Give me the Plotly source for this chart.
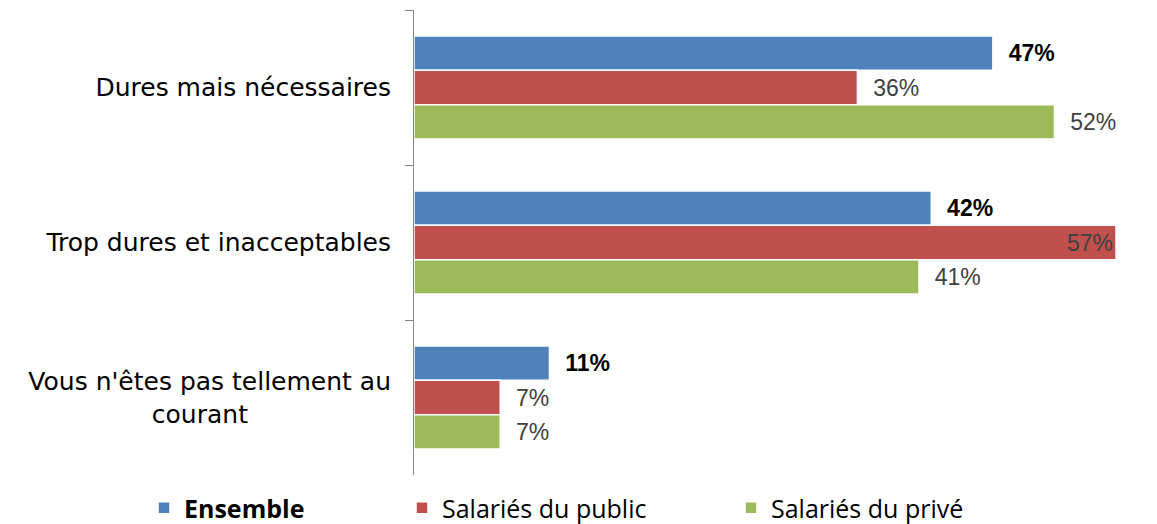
import plotly.graph_objects as go

categories = ["Dures mais nécessaires", "Trop dures et inacceptables",
              "Vous n'êtes pas tellement au<br>courant" + "\u00a0" * 18]
series_names = ["<b>Ensemble</b>", "Salariés du public", "Salariés du privé"]
ensemble = [47, 42, 11]
public = [36, 57, 7]
prive = [52, 41, 7]

colors = ["#4F81BD", "#C0504D", "#9BBB59"]
values = [ensemble, public, prive]
pad = "\u00a0\u00a0"
label_fmt = [
    [pad + "<b>%{x}%</b>"] * 3,
    [pad + "%{x}%", "%{x}%", pad + "%{x}%"],
    [pad + "%{x}%"] * 3,
]
label_pos = [
    ["outside"] * 3,
    ["outside", "inside", "outside"],
    ["outside"] * 3,
]
label_color = ["#000000", "#404040", "#404040"]
legend_ids = ["legend", "legend2", "legend3"]

W, H = 1149, 516
legend_x = [136, 394, 723]
legend_y = 500

fig = go.Figure()
for i in range(3):
    fig.add_trace(go.Bar(
        y=categories, x=values[i], orientation="h", name=series_names[i],
        marker=dict(color=colors[i], line=dict(color="white", width=1.5)),
        texttemplate=label_fmt[i], textposition=label_pos[i], cliponaxis=False,
        insidetextanchor="end",
        textfont=dict(family="Liberation Sans", size=23, color=label_color[i]),
        legend=legend_ids[i], showlegend=True,
    ))

layout_legends = {}
for i, lid in enumerate(legend_ids):
    layout_legends[lid] = dict(
        xref="container", yref="container", x=legend_x[i] / W, y=1 - legend_y / H,
        xanchor="left", yanchor="middle", orientation="h",
        font=dict(family="Open Sans", size=25, color="#000000"),
        bgcolor="rgba(0,0,0,0)", itemclick=False, itemdoubleclick=False,
    )

fig.update_layout(
    width=W, height=H, barmode="group", bargap=0.335, bargroupgap=0,
    margin=dict(l=406, r=4, t=2, b=49),
    showlegend=True,
    plot_bgcolor="white", paper_bgcolor="white",
    xaxis=dict(range=[0, 60], visible=False),
    yaxis=dict(autorange="reversed", showline=True, linecolor="#868686", linewidth=1,
               ticks="outside", tickson="boundaries", ticklen=8, tickcolor="#868686",
               ticklabelstandoff=17, showgrid=False,
               tickfont=dict(family="DejaVu Sans", size=25, color="#000000")),
    **layout_legends,
)
fig.write_html("out.html")
